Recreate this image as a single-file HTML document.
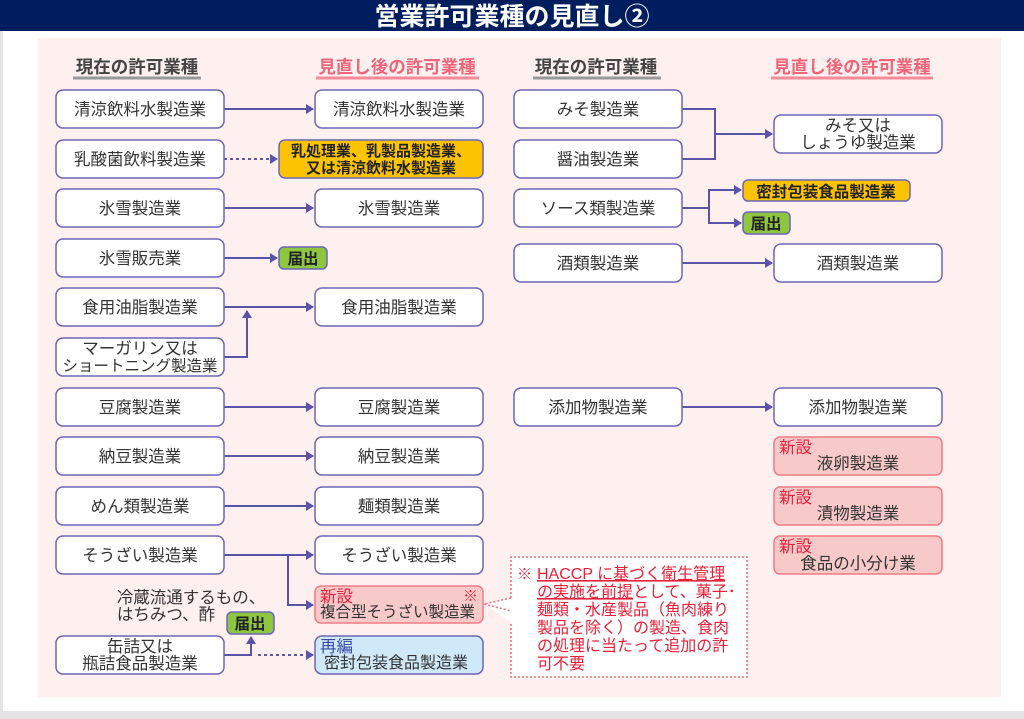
<!DOCTYPE html>
<html><head><meta charset="utf-8"><style>
html,body{margin:0;padding:0;background:#fff;}
svg{display:block;}
text{font-family:"Liberation Sans","Noto Sans CJK JP",sans-serif;}
</style></head><body>
<svg width="1024" height="719" viewBox="0 0 1024 719" xmlns="http://www.w3.org/2000/svg">
<defs>
<marker id="a" markerWidth="8" markerHeight="10" refX="7" refY="5" orient="auto" markerUnits="userSpaceOnUse"><path d="M0,0 L8,5 L0,10 Z" fill="#5a53a8"/></marker>
</defs>
<rect x="0" y="0" width="1024" height="719" fill="#fff"/>
<rect x="0" y="0" width="3" height="719" fill="#e4e4e4"/>
<rect x="0" y="711" width="1024" height="8" fill="#e4e4e4"/>
<rect x="0" y="0" width="1024" height="31" fill="#001e5e"/>
<text x="512" y="25" font-size="25" font-weight="bold" fill="#fff" text-anchor="middle">営業許可業種の見直し②</text>
<rect x="38" y="38" width="963" height="659" fill="#fdf0ee"/>

<g font-size="17.5" font-weight="bold" text-anchor="middle">
<text x="137" y="73" fill="#444">現在の許可業種</text>
<text x="397" y="73" fill="#f0657a">見直し後の許可業種</text>
<text x="596" y="73" fill="#444">現在の許可業種</text>
<text x="852" y="73" fill="#f0657a">見直し後の許可業種</text>
</g>
<g stroke-width="3">
<line x1="73" y1="78" x2="201" y2="78" stroke="#999"/>
<line x1="316" y1="78" x2="479" y2="78" stroke="#f58a98"/>
<line x1="533" y1="78" x2="661" y2="78" stroke="#999"/>
<line x1="771" y1="78" x2="933" y2="78" stroke="#f58a98"/>
</g>

<g stroke="#5a53a8" stroke-width="2" fill="none">
<line x1="224" y1="109" x2="313" y2="109" marker-end="url(#a)"/>
<line x1="224" y1="159" x2="277" y2="159" stroke-dasharray="3,3" marker-end="url(#a)"/>
<line x1="224" y1="208" x2="313" y2="208" marker-end="url(#a)"/>
<line x1="224" y1="258" x2="277" y2="258" marker-end="url(#a)"/>
<line x1="224" y1="307" x2="313" y2="307" marker-end="url(#a)"/>
<polyline points="224,357 247,357 247,311" marker-end="url(#a)"/>
<line x1="224" y1="407" x2="313" y2="407" marker-end="url(#a)"/>
<line x1="224" y1="456" x2="313" y2="456" marker-end="url(#a)"/>
<line x1="224" y1="506" x2="313" y2="506" marker-end="url(#a)"/>
<line x1="224" y1="555" x2="313" y2="555" marker-end="url(#a)"/>
<polyline points="288,555 288,605 313,605" marker-end="url(#a)"/>
<polyline points="224,655 251,655 251,637" marker-end="url(#a)"/>
<line x1="258" y1="655" x2="313" y2="655" stroke-dasharray="3,3" marker-end="url(#a)"/>

<polyline points="682,109 715,109 715,159 682,159"/>
<line x1="715" y1="134" x2="772" y2="134" marker-end="url(#a)"/>
<line x1="682" y1="208" x2="709" y2="208"/>
<polyline points="709,208 709,190 741,190" marker-end="url(#a)"/>
<polyline points="709,208 709,223 741,223" marker-end="url(#a)"/>
<line x1="682" y1="263" x2="772" y2="263" marker-end="url(#a)"/>
<line x1="682" y1="407" x2="772" y2="407" marker-end="url(#a)"/>
</g>

<g fill="#fff" stroke="#6b66b5" stroke-width="1.5">
<rect x="56" y="90" width="168" height="38" rx="7"/>
<rect x="56" y="140" width="168" height="38" rx="7"/>
<rect x="56" y="189" width="168" height="38" rx="7"/>
<rect x="56" y="239" width="168" height="38" rx="7"/>
<rect x="56" y="288" width="168" height="38" rx="7"/>
<rect x="56" y="338" width="168" height="38" rx="7"/>
<rect x="56" y="388" width="168" height="38" rx="7"/>
<rect x="56" y="437" width="168" height="38" rx="7"/>
<rect x="56" y="487" width="168" height="38" rx="7"/>
<rect x="56" y="536" width="168" height="38" rx="7"/>
<rect x="56" y="636" width="168" height="38" rx="7"/>
<rect x="315" y="90" width="168" height="38" rx="7"/>
<rect x="315" y="189" width="168" height="38" rx="7"/>
<rect x="315" y="288" width="168" height="38" rx="7"/>
<rect x="315" y="388" width="168" height="38" rx="7"/>
<rect x="315" y="437" width="168" height="38" rx="7"/>
<rect x="315" y="487" width="168" height="38" rx="7"/>
<rect x="315" y="536" width="168" height="38" rx="7"/>
<rect x="514" y="90" width="168" height="38" rx="7"/>
<rect x="514" y="140" width="168" height="38" rx="7"/>
<rect x="514" y="189" width="168" height="38" rx="7"/>
<rect x="514" y="244" width="168" height="38" rx="7"/>
<rect x="514" y="388" width="168" height="38" rx="7"/>
<rect x="774" y="115" width="168" height="38" rx="7"/>
<rect x="774" y="244" width="168" height="38" rx="7"/>
<rect x="774" y="388" width="168" height="38" rx="7"/>
</g>
<rect x="315" y="636" width="168" height="38" rx="7" fill="#cfe9f8" stroke="#6b66b5" stroke-width="1.5"/>
<g fill="#fcc400" stroke="#6b66b5" stroke-width="1.5">
<rect x="279" y="140" width="204" height="38" rx="6"/>
<rect x="743" y="180" width="167" height="21" rx="5"/>
</g>
<g fill="#8ec63f" stroke="#6b66b5" stroke-width="1.5">
<rect x="279" y="247" width="48" height="22" rx="5"/>
<rect x="743" y="212" width="47" height="22" rx="5"/>
<rect x="227" y="612" width="47" height="22" rx="5"/>
</g>
<g fill="#f8c9c9" stroke="#f07a84" stroke-width="1.5">
<rect x="315" y="586" width="168" height="37" rx="6"/>
<rect x="774" y="437" width="168" height="38" rx="6"/>
<rect x="774" y="487" width="168" height="38" rx="6"/>
<rect x="774" y="536" width="168" height="38" rx="6"/>
</g>
<polygon points="511,557 747,557 747,677 511,677 511,622 484,604 511,598" fill="#fff"/>
<path d="M511,598 L511,557 L747,557 L747,677 L511,677 L511,622 M511,598 L484,604 L511,611" fill="none" stroke="#e8707e" stroke-width="1.5" stroke-dasharray="2,2"/>

<g font-size="16.5" fill="#333" text-anchor="middle">
<text x="140" y="115">清涼飲料水製造業</text>
<text x="140" y="165">乳酸菌飲料製造業</text>
<text x="140" y="214">氷雪製造業</text>
<text x="140" y="264">氷雪販売業</text>
<text x="140" y="313">食用油脂製造業</text>
<text x="140" y="354">マーガリン又は</text>
<text x="140" y="371" font-size="15.5">ショートニング製造業</text>
<text x="140" y="413">豆腐製造業</text>
<text x="140" y="462">納豆製造業</text>
<text x="140" y="512">めん類製造業</text>
<text x="140" y="561">そうざい製造業</text>
<text x="140" y="652">缶詰又は</text>
<text x="140" y="669">瓶詰食品製造業</text>
<text x="399" y="115">清涼飲料水製造業</text>
<text x="399" y="214">氷雪製造業</text>
<text x="399" y="313">食用油脂製造業</text>
<text x="399" y="413">豆腐製造業</text>
<text x="399" y="462">納豆製造業</text>
<text x="399" y="512">麺類製造業</text>
<text x="399" y="561">そうざい製造業</text>
<text x="598" y="115">みそ製造業</text>
<text x="598" y="165">醤油製造業</text>
<text x="598" y="214">ソース類製造業</text>
<text x="598" y="269">酒類製造業</text>
<text x="598" y="413">添加物製造業</text>
<text x="858" y="131">みそ又は</text>
<text x="858" y="148">しょうゆ製造業</text>
<text x="858" y="269">酒類製造業</text>
<text x="858" y="413">添加物製造業</text>
<text x="858" y="469">液卵製造業</text>
<text x="858" y="519">漬物製造業</text>
<text x="858" y="569">食品の小分け業</text>
<text x="191" y="603">冷蔵流通するもの、</text>
<text x="166" y="620">はちみつ、酢</text>
</g>
<g font-size="16" fill="#333">
<text x="320" y="617" font-size="15.5">複合型そうざい製造業</text>
<text x="324" y="668">密封包装食品製造業</text>
</g>
<g font-size="15.5" fill="#222" font-weight="bold" text-anchor="middle">
<text x="381" y="156" font-size="15">乳処理業、乳製品製造業、</text>
<text x="381" y="173" font-size="15">又は清涼飲料水製造業</text>
<text x="826" y="197">密封包装食品製造業</text>
<text x="303" y="264">届出</text>
<text x="766" y="229">届出</text>
<text x="250" y="629">届出</text>
</g>
<g font-size="16.5" fill="#e8203a">
<text x="320" y="602">新設</text>
<text x="779" y="453">新設</text>
<text x="779" y="503">新設</text>
<text x="779" y="552">新設</text>
<text x="463" y="601" font-size="15">※</text>
</g>
<text x="320" y="652" font-size="16.5" fill="#3b4aa8">再編</text>
<g font-size="16" fill="#e8203a">
<text x="517" y="579" font-size="15">※</text>
<text x="537" y="579" text-decoration="underline">HACCP に基づく衛生管理</text>
<text x="537" y="597"><tspan text-decoration="underline">の実施を前提</tspan>として、菓子･</text>
<text x="537" y="615">麺類・水産製品（魚肉練り</text>
<text x="537" y="633">製品を除く）の製造、食肉</text>
<text x="537" y="651">の処理に当たって追加の許</text>
<text x="537" y="669">可不要</text>
</g>
</svg>
</body></html>
